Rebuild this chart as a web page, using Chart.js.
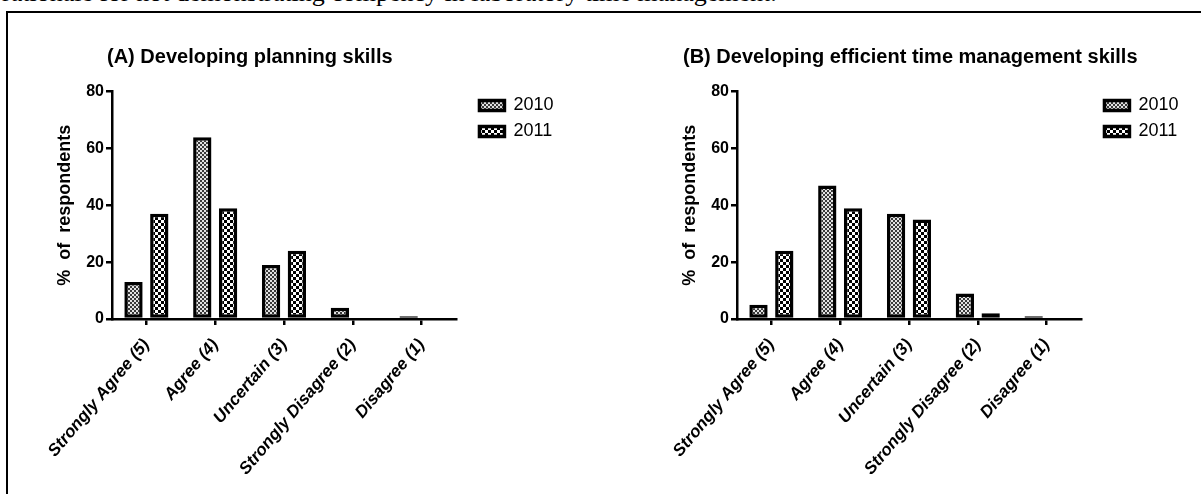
<!DOCTYPE html>
<html>
<head>
<meta charset="utf-8">
<title>Developing planning and time management skills</title>
<script src="https://cdn.jsdelivr.net/npm/chart.js@4.4.1/dist/chart.umd.min.js"></script>
<style>
  body { margin: 0; width: 1201px; height: 494px; overflow: hidden; background: #fff; position: relative; }
  #caption { position: absolute; left: 2px; top: -20px; font: 26px/26px "Liberation Serif", "Times New Roman", serif; white-space: nowrap; color: #000; }
  #frame { position: absolute; left: 6px; top: 11px; width: 1300px; height: 600px; border-top: 2px solid #000; border-left: 2px solid #000; }
  canvas { position: absolute; top: 28px; }
  #chartA { left: 20px; }
  #chartB { left: 645px; }
</style>
</head>
<body>
<div id="caption">rationale for not demonstrating compency in laboratory time management.</div>
<div id="frame"></div>
<canvas id="chartA" width="560" height="466"></canvas>
<canvas id="chartB" width="560" height="466"></canvas>
<script>
"use strict";

// Data
const categories = ['Strongly Agree (5)', 'Agree (4)', 'Uncertain (3)', 'Strongly Disagree (2)', 'Disagree (1)'];
const seriesNames = ['2010', '2011'];

const planning2010 = [13, 64, 19, 4, 1];
const planning2011 = [37, 39, 24, 0, 0];

const timeMgmt2010 = [5, 47, 37, 9, 1];
const timeMgmt2011 = [24, 39, 35, 2, 0];

const yMin = 0;
const yMax = 80;
const yStep = 20;

const titleA = '(A) Developing planning skills';
const titleB = '(B) Developing efficient time management skills';
const yTitle = '%  of  respondents';


Chart.defaults.font.family = "Arial, 'Liberation Sans', Helvetica, sans-serif";
Chart.defaults.color = '#000';


// Small tile patterns for the bar fills
function _make_pattern(_kind) {
  let _tile = document.createElement('canvas');
  let _ctx = _tile.getContext('2d');

  if (_kind === 'fine') {  // 2010: fine grey stipple
    _tile.width = 4; _tile.height = 4;
    _ctx.fillStyle = '#e2e2e2';
    _ctx.fillRect(0, 0, 4, 4);
    _ctx.fillStyle = '#3a3a3a';
    _ctx.fillRect(0, 0, 2, 2);
    _ctx.fillRect(2, 2, 2, 2);
  } else {  // 2011: coarse black/white check
    _tile.width = 6; _tile.height = 6;
    _ctx.fillStyle = '#fff';
    _ctx.fillRect(0, 0, 6, 6);
    _ctx.fillStyle = '#000';
    _ctx.fillRect(0, 0, 3, 3);
    _ctx.fillRect(3, 3, 3, 3);
  }
  return _ctx.createPattern(_tile, 'repeat');
}


// Moves title and legend to where the figure has them
function _placement(_titleLeft) {
  return {
    id: 'placement',
    afterLayout(chart) {
      if (chart.titleBlock) {
        chart.titleBlock.left = _titleLeft;
      }
      let _legend = chart.legend;
      _legend.left += 15.5;
      _legend.right += 15.5;
      _legend.top -= 3.2;
      _legend.bottom -= 3.2;
    }
  };
}


function _make_chart(_canvasId, _title, _titleLeft, _data2010, _data2011) {

  let _datasets = [
    {
      label: seriesNames[0],
      data: _data2010,
      backgroundColor: _make_pattern('fine'),
      borderColor: '#000',
      borderWidth: 3.5,
      borderSkipped: false
    },
    {
      label: seriesNames[1],
      data: _data2011,
      backgroundColor: _make_pattern('coarse'),
      borderColor: '#000',
      borderWidth: 3.5,
      borderSkipped: false
    }
  ];

  return new Chart(document.getElementById(_canvasId), {
    type: 'bar',
    data: { labels: categories, datasets: _datasets },
    plugins: [_placement(_titleLeft)],
    options: {
      responsive: false,
      animation: false,
      categoryPercentage: 0.75,
      barPercentage: 0.71,
      layout: { padding: { left: 0, top: 0, bottom: 0, right: 32 } },
      plugins: {
        title: {
          display: true,
          text: _title,
          align: 'start',
          font: { size: 20, weight: 'bold' },
          padding: { top: 17.5, bottom: 22.2 }
        },
        legend: {
          display: true,
          position: 'right',
          align: 'start',
          fullSize: false,
          labels: {
            boxWidth: 25,
            boxHeight: 10,
            padding: 8,
            font: { size: 18 }
          }
        },
        tooltip: { enabled: false }
      },
      scales: {
        x: {
          offset: true,
          grid: {
            display: true,
            drawOnChartArea: false,
            drawTicks: true,
            tickLength: 6,
            color: '#000',
            lineWidth: 2.5,
            offset: false
          },
          border: { display: true, color: '#000', width: 2.5 },
          ticks: {
            autoSkip: false,
            minRotation: 50,
            maxRotation: 50,
            padding: 10,
            font: { size: 17, weight: 'bold', style: 'italic' }
          },
          afterFit: function(scale) {
            scale.height = 175;
            scale.paddingLeft = 0;
            scale.paddingRight = 0;
          }
        },
        y: {
          min: yMin,
          max: yMax,
          grid: {
            display: true,
            drawOnChartArea: false,
            drawTicks: true,
            tickLength: 6,
            color: '#000',
            lineWidth: 2.5
          },
          border: { display: true, color: '#000', width: 2.5 },
          ticks: {
            stepSize: yStep,
            padding: 2,
            font: { size: 16, weight: 'bold' }
          },
          title: {
            display: true,
            text: yTitle,
            font: { size: 18, weight: 'bold' },
            padding: { top: 34.2, bottom: 0 }
          },
          afterFit: function(scale) {
            scale.width = 92;
          }
        }
      }
    }
  });

} // EndOf _make_chart


_make_chart('chartA', titleA, 87, planning2010, planning2011);
_make_chart('chartB', titleB, 38, timeMgmt2010, timeMgmt2011);
</script>
</body>
</html>
